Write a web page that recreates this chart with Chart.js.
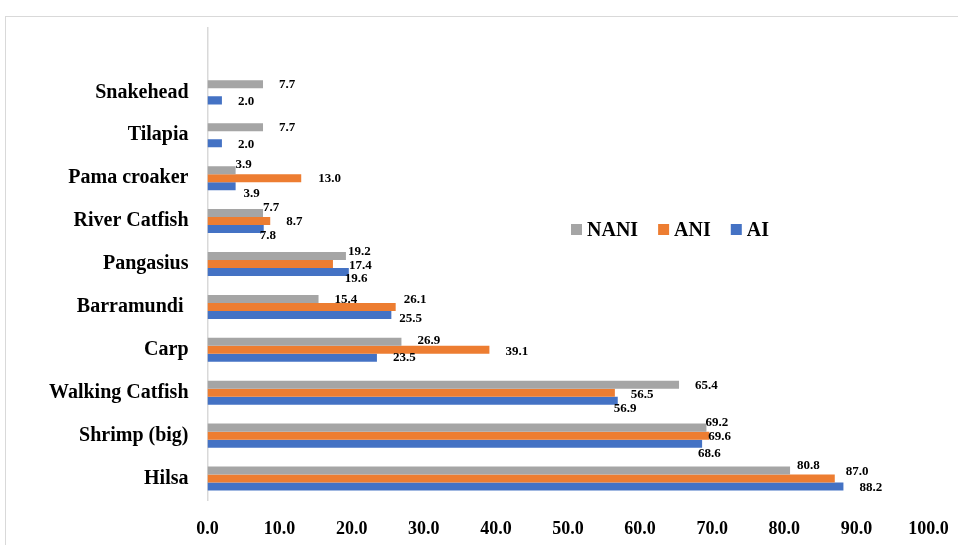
<!DOCTYPE html>
<html>
<head>
<meta charset="utf-8">
<script src="https://cdn.jsdelivr.net/npm/chart.js@4/dist/chart.umd.min.js"></script>
<style>
  html, body { margin: 0; padding: 0; background: #fff; overflow: hidden; }
  #wrap { position: relative; width: 958px; height: 545px; }
  #frame {
    position: absolute; left: 5px; top: 16px; width: 1200px; height: 800px;
    border: 1.5px solid #d9d9d9; box-sizing: border-box; pointer-events: none;
  }
  canvas { position: absolute; left: 0; top: 0; }
</style>
</head>
<body>
<div id="wrap">
  <div id="frame"></div>
  <canvas id="chart" width="958" height="545"></canvas>
</div>
<script>
// Species, top to bottom (first row left blank as spacing above the bars)
const categories = ['', 'Snakehead', 'Tilapia', 'Pama croaker', 'River Catfish', 'Pangasius',
  'Barramundi ', 'Carp', 'Walking Catfish', 'Shrimp (big)', 'Hilsa'];

// Percent of respondents per group
const nani = [null, 7.7, 7.7, 3.9, 7.7, 19.2, 15.4, 26.9, 65.4, 69.2, 80.8];
const ani  = [null, null, null, 13.0, 8.7, 17.4, 26.1, 39.1, 56.5, 69.6, 87.0];
const ai   = [null, 2.0, 2.0, 3.9, 7.8, 19.6, 25.5, 23.5, 56.9, 68.6, 88.2];

const seriesNames = ['NANI', 'ANI', 'AI'];
const seriesColors = ['#a5a5a5', '#ed7d31', '#4472c4'];

// Hand-placed value-label nudges [dx, dy] in px, relative to the default spot
const nudgeNani = [[0,0],[0,0],[0,0],[-16,-6],[-16,-5],[-14,-4],[0,1],[0,-1],[0,1],[-17,-5],[-9,-5]];
const nudgeAni  = [[0,0],[0,0],[0,0],[1,0],[0,1],[0,2],[-8,-7],[0,2],[0,2],[-17,1],[-5,-7]];
const nudgeAi   = [[0,0],[0,1],[0,1],[-8,7],[-20,7],[-20,7],[-8,4],[0,0],[-20,8],[-20,10],[0,1]];

const xTicks = [0, 10, 20, 30, 40, 50, 60, 70, 80, 90, 100];

const FONT = '"Liberation Serif", "Times New Roman", serif';

const valueLabels = {
  id: 'valueLabels',
  afterDatasetsDraw(chart) {
    const ctx = chart.ctx;
    const nudges = [nudgeNani, nudgeAni, nudgeAi];
    ctx.save();
    ctx.font = 'bold 13px ' + FONT;
    ctx.fillStyle = '#000';
    ctx.textAlign = 'left';
    ctx.textBaseline = 'middle';
    chart.data.datasets.forEach((ds, di) => {
      const meta = chart.getDatasetMeta(di);
      meta.data.forEach((bar, i) => {
        const v = ds.data[i];
        if (v === null || v === undefined) return;
        const [dx, dy] = nudges[di][i];
        ctx.fillText(v.toFixed(1), bar.x + 16 + dx, bar.y + dy);
      });
    });
    ctx.restore();
  }
};

const innerLegend = {
  id: 'innerLegend',
  afterDraw(chart) {
    const ctx = chart.ctx;
    const area = chart.chartArea;
    let x = area.left + 363.5;
    const cy = area.top + 201.5;
    const box = 11;
    ctx.save();
    ctx.font = 'bold 20px ' + FONT;
    ctx.textAlign = 'left';
    ctx.textBaseline = 'middle';
    chart.data.datasets.forEach((ds) => {
      ctx.fillStyle = ds.backgroundColor;
      ctx.fillRect(x, cy - box / 2, box, box);
      x += box + 5;
      ctx.fillStyle = '#000';
      ctx.fillText(ds.label, x, cy + 1);
      x += ctx.measureText(ds.label).width + 20;
    });
    ctx.restore();
  }
};

new Chart(document.getElementById('chart'), {
  type: 'bar',
  data: {
    labels: categories,
    datasets: [
      { label: seriesNames[0], data: nani, backgroundColor: seriesColors[0] },
      { label: seriesNames[1], data: ani, backgroundColor: seriesColors[1] },
      { label: seriesNames[2], data: ai, backgroundColor: seriesColors[2] }
    ]
  },
  options: {
    indexAxis: 'y',
    responsive: false,
    animation: false,
    devicePixelRatio: 1,
    layout: { padding: { top: 28, right: 29.5, bottom: 0, left: 0 } },
    datasets: { bar: { categoryPercentage: 0.56, barPercentage: 1.0, borderWidth: 0 } },
    plugins: { legend: { display: false }, tooltip: { enabled: false } },
    scales: {
      x: {
        min: 0, max: 100,
        afterBuildTicks(scale) { scale.ticks = xTicks.map(v => ({ value: v })); },
        afterFit(scale) {
          scale.height = 45;
          scale.paddingLeft = 0;
          scale.paddingRight = 0;
        },
        grid: { display: false, drawTicks: false },
        border: { display: false },
        ticks: {
          padding: 19,
          color: '#000',
          font: { family: FONT, size: 18, weight: 'bold' },
          callback: (v) => Number(v).toFixed(1)
        }
      },
      y: {
        afterFit(scale) {
          scale.width = 207.5;
          scale.paddingTop = 0;
          scale.paddingBottom = 0;
        },
        grid: { display: false, drawTicks: false },
        border: { display: true, color: '#d9d9d9', width: 1.5 },
        ticks: {
          padding: 19,
          color: '#000',
          autoSkip: false,
          font: { family: FONT, size: 20, weight: 'bold' }
        }
      }
    }
  },
  plugins: [valueLabels, innerLegend]
});
</script>
</body>
</html>
